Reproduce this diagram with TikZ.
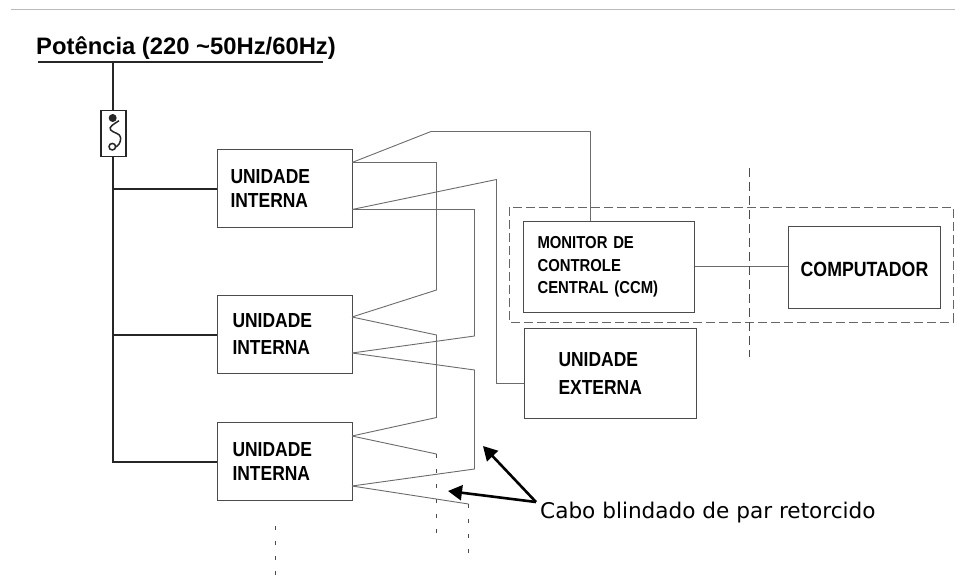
\documentclass[tikz,border=0pt]{standalone}
\usepackage{fontspec}
\setmainfont{Liberation Sans}
\newfontfamily\boxfont{Liberation Sans}[FakeStretch=0.86]
\newfontfamily\cablefont{DejaVu Sans}
\usetikzlibrary{arrows.meta,positioning}
\definecolor{wiregray}{gray}{0.42}
\definecolor{boxgray}{gray}{0.3}
\tikzset{
  boxtext/.style={font=\boxfont\bfseries\fontsize{20.3}{24.5}\selectfont,align=left},
  unitbox/.style={draw=boxgray,line width=1pt,boxtext,anchor=north west,inner xsep=13pt,inner ysep=0pt},
  wire/.style={draw=wiregray,line width=0.9pt},
  power/.style={draw=black!85,line width=2pt},
  farrow/.style={draw=black,line width=2.6pt,-{Triangle[length=14pt,width=15pt]}},
  cut/.style={draw=black!70,line width=0.9pt,dash pattern=on 4pt off 11pt},
  longcut/.style={draw=black!70,line width=0.9pt,dash pattern=on 9pt off 5pt},
}
\begin{document}
\begin{tikzpicture}[x=1pt,y=-1pt]
  \useasboundingbox (0,0) rectangle (955,586);
  \draw[gray!55,line width=1pt] (11,10) -- (955,10);

  % power line
  \node (title) [anchor=base west,inner sep=0pt,font=\bfseries\fontsize{23.8}{28}\selectfont] at (36,54.5) {Potência (220 \textasciitilde 50Hz/60Hz)};
  \coordinate (busL) at (38,62);
  \coordinate (busR) at (323,62);
  \draw[black!85,line width=2.2pt] (busL) -- (busR);

  % fuse
  \node (fuse) [draw=black!85,line width=1.6pt,minimum width=25pt,minimum height=46pt,inner sep=0pt] at (113.2,133.3) {};
  \draw[power] (fuse.north |- busL) -- (fuse.north);
  \fill[black!85] (112.7,118) circle (4pt);
  \draw[black!85,line width=1.5pt] (119,120.7) .. controls (114,124) and (108,127) .. (110.7,130)
    .. controls (113,133) and (120.7,133) .. (120.7,138)
    .. controls (120.7,143) and (118,146) .. (115.5,147);
  \draw[black!85,line width=1.5pt] (112.3,146.7) circle (3.3pt);

  % indoor units
  \node (UI1) [unitbox,text width=109pt,minimum height=78pt] at (217,149) {UNIDADE\\INTERNA};
  \node (UI2) [unitbox,inner xsep=15pt,text width=105pt,minimum height=78pt] at (217,295) {UNIDADE\\[2.5pt]INTERNA};
  \node (UI3) [unitbox,inner xsep=15pt,text width=104.5pt,minimum height=78pt] at (217,422) {UNIDADE\\INTERNA};

  \coordinate (trunk) at (fuse.south |- UI3.west);
  \draw[power] (fuse.south) -- (trunk) -- (UI3.west);
  \draw[power] (UI1.west) -- (UI1.west -| trunk);
  \draw[power] (UI2.west) -- (UI2.west -| trunk);

  % central monitor, computer, outdoor unit
  \node (CCM) [unitbox,font=\boxfont\bfseries\fontsize{17.3}{22.5}\selectfont,inner xsep=14pt,text width=143pt,minimum height=91pt] at (523,221) {MONITOR DE\\CONTROLE\\CENTRAL (CCM)};
  \node (PC) [unitbox,font=\boxfont\bfseries\fontsize{20.6}{24}\selectfont,minimum width=152pt,minimum height=82pt,inner xsep=0pt,align=center,text height=19pt] at (788,226) {COMPUTADOR};
  \node (UE) [unitbox,inner xsep=34pt,text width=104pt,minimum height=90pt] at (524,328) {UNIDADE\\[3.5pt]EXTERNA};
  \draw[wire] (CCM.east |- 0,266.5) -- (PC.west |- 0,266.5);
  \draw[draw=black!60,line width=0.9pt,dash pattern=on 9pt off 4pt] (509,207) rectangle (953,322);
  \draw[longcut] (749.5,168) -- (749.5,357);

  % ports on the indoor units
  \coordinate (p1a) at (352,162.5);
  \coordinate (p1b) at (352,209.5);
  \coordinate (p2a) at (352,317);
  \coordinate (p2b) at (352,353);
  \coordinate (p3a) at (352,436);
  \coordinate (p3b) at (352,486);
  \coordinate (end3a) at (436.5,454);
  \coordinate (end3b) at (468.5,504);
  \coordinate (ccmIn) at (590.5,221);
  \coordinate (ueIn) at (524,383.5);

  % twisted pair
  \draw[wire] (p1a) -- (431,131.5) -- (ccmIn |- 0,131.5) -- (ccmIn);
  \draw[wire] (p1a) -- (436.5,162.5) -- (436.5,290) -- (p2a);
  \draw[wire] (p1b) -- (496.5,179.5) -- (496.5,383.5) -- (ueIn);
  \draw[wire] (p1b) -- (474.5,209.5) -- (474.5,336) -- (p2b);
  \draw[wire] (p2a) -- (436.5,335) -- (436.5,417.5) -- (p3a);
  \draw[wire] (p2b) -- (474.5,370) -- (474.5,469) -- (p3b);
  \draw[wire] (p3a) -- (end3a);
  \draw[wire] (p3b) -- (end3b);
  \draw[cut] (end3a) -- (436.5,536);
  \draw[cut] (end3b) -- (468.5,555);
  \draw[cut] (275.5,526) -- (275.5,578);

  % cable note
  \node (cable) [anchor=base west,inner sep=0pt,font=\cablefont\fontsize{21.6}{26}\selectfont] at (540,518) {Cabo blindado de par retorcido};
  \coordinate (cableTip) at (536,502);
  \coordinate (tipA) at (483,446);
  \coordinate (tipB) at (448,491);
  \draw[farrow] (cableTip) -- (tipA);
  \draw[farrow] (cableTip) -- (tipB);
\end{tikzpicture}
\end{document}
